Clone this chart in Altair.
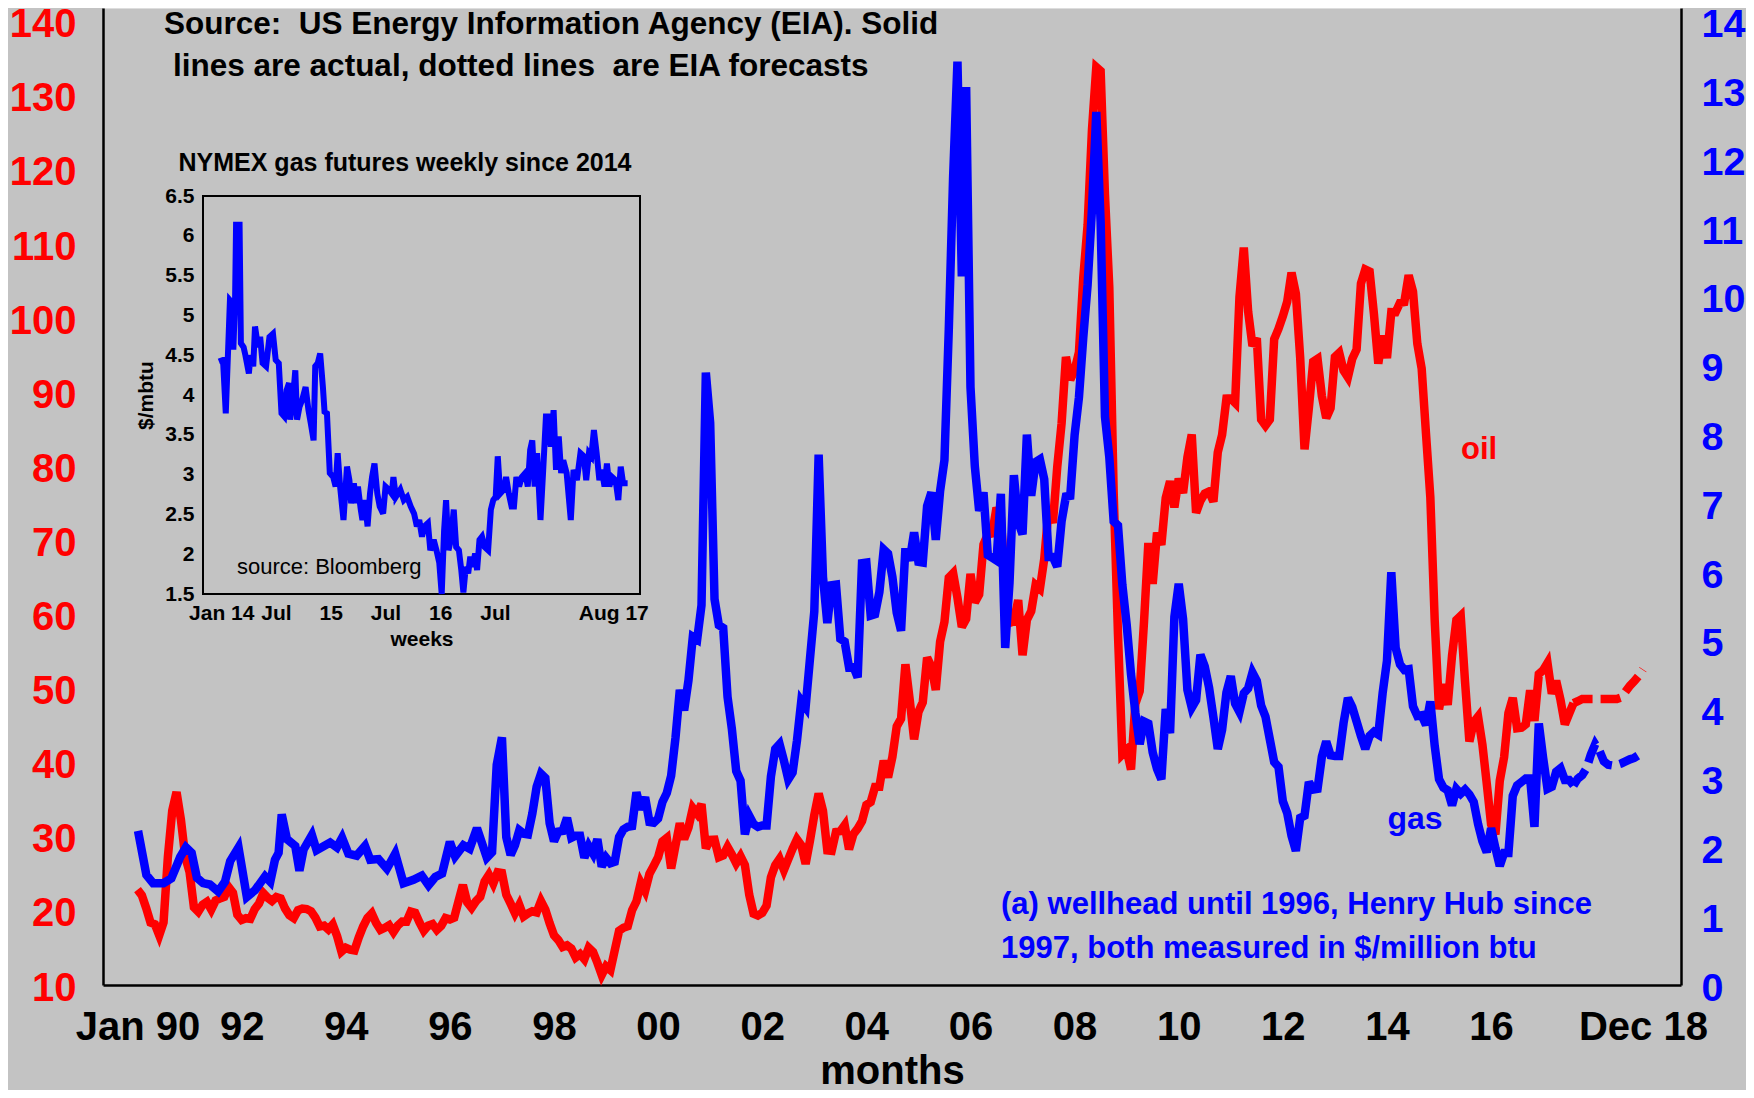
import altair as alt
import pandas as pd

# ---------------- data ----------------
# WTI oil price, $/barrel, monthly from Jan 1990 to Aug 2017
oil_first_year = 1990
oil_actual = [
    22.86, 22.11, 20.39, 18.43, 18.20, 16.70, 18.45, 27.31, 33.51, 36.04, 32.33, 27.28,
    25.23, 20.48, 19.90, 20.83, 21.23, 20.19, 21.40, 21.69, 21.89, 23.23, 22.46, 19.50,
    18.79, 19.01, 18.92, 20.23, 20.98, 22.39, 21.78, 21.34, 21.88, 21.69, 20.34, 19.41,
    19.03, 20.09, 20.32, 20.25, 19.95, 19.09, 17.89, 18.01, 17.50, 18.15, 16.61, 14.52,
    15.03, 14.78, 14.68, 16.42, 17.89, 19.06, 19.66, 18.38, 17.45, 17.72, 18.07, 17.16,
    18.04, 18.57, 18.54, 19.90, 19.74, 18.45, 17.33, 18.02, 18.23, 17.43, 17.99, 19.03,
    18.85, 19.09, 21.33, 23.50, 21.17, 20.42, 21.30, 21.90, 23.97, 24.88, 23.71, 25.23,
    25.13, 22.18, 20.97, 19.70, 20.82, 19.26, 19.66, 19.95, 19.80, 21.33, 20.19, 18.33,
    16.72, 16.06, 15.12, 15.35, 14.91, 13.72, 14.17, 13.47, 15.03, 14.46, 13.00, 11.35,
    12.52, 12.01, 14.68, 17.31, 17.72, 17.92, 20.10, 21.28, 23.80, 22.69, 25.00, 26.10,
    27.26, 29.37, 29.84, 25.72, 28.79, 31.82, 29.70, 31.26, 33.88, 33.11, 34.42, 28.44,
    29.59, 29.61, 27.25, 27.49, 28.63, 27.60, 26.43, 27.37, 26.20, 22.17, 19.64, 19.39,
    19.72, 20.72, 24.53, 26.18, 27.04, 25.52, 26.97, 28.39, 29.66, 28.84, 26.35, 29.46,
    32.95, 35.83, 33.51, 28.17, 28.11, 30.66, 30.76, 31.57, 28.31, 30.34, 31.11, 32.13,
    34.31, 34.69, 36.74, 36.75, 40.28, 38.03, 40.78, 44.90, 45.94, 53.28, 48.47, 43.15,
    46.84, 48.15, 54.19, 52.98, 49.83, 56.35, 59.00, 64.99, 65.59, 62.26, 58.32, 59.41,
    65.49, 61.63, 62.69, 69.44, 70.84, 70.95, 74.41, 73.04, 63.80, 58.89, 59.08, 61.96,
    54.51, 59.28, 60.44, 63.98, 63.46, 67.49, 74.12, 72.36, 79.92, 85.80, 94.77, 91.69,
    92.97, 95.39, 105.45, 112.58, 125.40, 133.88, 133.37, 116.67, 104.11, 76.61, 57.31, 41.12,
    41.71, 39.09, 47.94, 49.65, 59.03, 69.64, 64.15, 71.05, 69.41, 75.72, 77.99, 74.47,
    78.33, 76.39, 81.20, 84.29, 73.74, 75.34, 76.32, 76.60, 75.24, 81.89, 84.25, 89.15,
    89.17, 88.58, 102.86, 109.53, 100.90, 96.26, 97.30, 86.33, 85.52, 86.32, 97.16, 98.56,
    100.27, 102.20, 106.16, 103.32, 94.66, 82.30, 87.90, 94.13, 94.51, 89.49, 86.53, 87.86,
    94.76, 95.31, 92.94, 92.02, 94.51, 95.77, 104.67, 106.57, 106.29, 100.54, 93.86, 97.63,
    94.62, 100.82, 100.80, 102.07, 102.18, 105.79, 103.59, 96.54, 93.21, 84.40, 75.79, 59.29,
    47.22, 50.58, 47.82, 54.45, 59.27, 59.82, 50.90, 42.87, 45.48, 46.22, 42.44, 37.19,
    31.68, 30.32, 37.55, 40.75, 46.71, 48.76, 44.65, 44.72, 45.18, 49.78, 45.66, 51.97,
    52.50, 53.47, 49.33, 51.06, 48.48, 45.18, 46.63, 48.04,
]

# Gas, wellhead price until 1996 ($/million btu)
gas_wellhead_year = [
    1990.01, 1990.17, 1990.30, 1990.50, 1990.65, 1990.82, 1990.93, 1991.04, 1991.14, 1991.26,
    1991.39, 1991.55, 1991.68, 1991.78, 1991.94, 1992.10, 1992.26, 1992.45, 1992.55, 1992.64,
    1992.71, 1992.77, 1992.87, 1993.03, 1993.11, 1993.19, 1993.35, 1993.44, 1993.70, 1993.83,
    1993.93, 1994.05, 1994.21, 1994.37, 1994.47, 1994.63, 1994.79, 1994.95, 1995.11, 1995.30,
    1995.46, 1995.59, 1995.72, 1995.85, 1996.00, 1996.10, 1996.26, 1996.38, 1996.52, 1996.71,
    1996.81, 1996.90,
]
gas_wellhead = [
    2.24, 1.60, 1.48, 1.48, 1.55, 1.86, 2.00, 1.92, 1.56, 1.48,
    1.46, 1.36, 1.50, 1.80, 2.00, 1.28, 1.38, 1.58, 1.50, 1.82,
    1.92, 2.48, 2.12, 2.02, 1.66, 1.97, 2.18, 1.96, 2.07, 2.00,
    2.14, 1.91, 1.88, 2.02, 1.82, 1.83, 1.69, 1.91, 1.48, 1.53,
    1.59, 1.45, 1.57, 1.62, 2.08, 1.87, 2.03, 1.98, 2.28, 1.85,
    1.93, 3.20,
]

# Gas, Henry Hub from Jan 1997 to Aug 2017, monthly
gas_hh_first_year = 1997
gas_hh = [
    3.60, 2.15, 1.89, 2.03, 2.25, 2.20, 2.19, 2.49, 2.88, 3.07, 3.01, 2.35,
    2.09, 2.23, 2.24, 2.43, 2.14, 2.17, 2.17, 1.85, 2.02, 1.91, 2.12, 1.72,
    1.85, 1.77, 1.79, 2.15, 2.26, 2.30, 2.31, 2.80, 2.55, 2.73, 2.37, 2.36,
    2.42, 2.66, 2.79, 3.04, 3.59, 4.29, 3.99, 4.43, 5.06, 5.02, 5.52, 8.90,
    8.17, 5.61, 5.23, 5.19, 4.19, 3.72, 3.11, 2.97, 2.19, 2.46, 2.34, 2.30,
    2.32, 2.32, 3.03, 3.43, 3.50, 3.26, 2.99, 3.09, 3.55, 4.13, 4.04, 4.74,
    5.43, 7.71, 5.93, 5.26, 5.81, 5.82, 5.03, 4.99, 4.62, 4.63, 4.47, 6.13,
    6.14, 5.37, 5.39, 5.71, 6.33, 6.27, 5.93, 5.41, 5.15, 6.35, 6.17, 6.58,
    6.15, 6.14, 6.96, 7.16, 6.47, 7.18, 7.63, 9.53, 11.75, 13.42, 10.30, 13.05,
    8.69, 7.54, 6.89, 7.16, 6.25, 6.21, 6.17, 7.14, 4.90, 5.85, 7.41, 6.73,
    6.55, 8.00, 7.11, 7.60, 7.64, 7.35, 6.22, 6.22, 6.08, 6.74, 7.10, 7.11,
    7.99, 8.54, 9.41, 10.18, 11.27, 12.69, 11.09, 8.26, 7.67, 6.74, 6.68, 5.82,
    5.24, 4.52, 3.96, 3.50, 3.83, 3.80, 3.38, 3.14, 2.99, 4.01, 3.66, 5.35,
    5.83, 5.32, 4.29, 4.03, 4.14, 4.80, 4.63, 4.32, 3.89, 3.43, 3.71, 4.25,
    4.49, 4.09, 3.97, 4.24, 4.31, 4.54, 4.42, 4.06, 3.90, 3.57, 3.24, 3.17,
    2.67, 2.50, 2.17, 1.95, 2.43, 2.46, 2.95, 2.84, 2.85, 3.32, 3.54, 3.34,
    3.33, 3.33, 3.81, 4.17, 4.04, 3.83, 3.62, 3.43, 3.62, 3.68, 3.64, 4.24,
    4.71, 6.00, 4.90, 4.66, 4.58, 4.59, 4.05, 3.91, 3.92, 3.78, 4.12, 3.48,
    2.99, 2.87, 2.83, 2.61, 2.85, 2.78, 2.84, 2.77, 2.66, 2.34, 2.09, 1.93,
    2.28, 1.99, 1.73, 1.92, 1.92, 2.75, 2.90, 2.95, 3.00, 3.00, 2.30, 3.80,
    3.30, 2.85, 2.88, 3.10, 3.15, 2.98, 2.98, 2.90,
]

# EIA forecasts, monthly Aug 2017 - Dec 2018
forecast_first_year = 2017 + 7 / 12
oil_forecast = [48.04, 48.3, 48.6, 48.6, 48.6, 48.6, 48.6, 48.6, 48.6, 48.6, 48.6,
                48.8, 49.6, 50.4, 51.0, 51.7, 52.6]
gas_forecast = [2.90, 3.00, 3.05, 3.15, 3.35, 3.50, 3.40, 3.25, 3.20, 3.19, 3.20,
                3.22, 3.25, 3.28, 3.30, 3.34, 3.38]

# Inset: NYMEX gas futures, weekly since 2014 ($/mbtu)
inset_year = [
    2013.978, 2014.016, 2014.041, 2014.079, 2014.104, 2014.110, 2014.126, 2014.135, 2014.167, 2014.179,
    2014.204, 2014.220, 2014.252, 2014.267, 2014.292, 2014.308, 2014.336, 2014.355, 2014.377, 2014.409,
    2014.440, 2014.472, 2014.497, 2014.525, 2014.550, 2014.575, 2014.597, 2014.619, 2014.629, 2014.651,
    2014.676, 2014.692, 2014.714, 2014.739, 2014.770, 2014.796, 2014.818, 2014.843, 2014.858, 2014.881,
    2014.903, 2014.928, 2014.943, 2014.965, 2014.991, 2015.022, 2015.044, 2015.063, 2015.085, 2015.116,
    2015.148, 2015.170, 2015.186, 2015.211, 2015.233, 2015.248, 2015.274, 2015.289, 2015.311, 2015.336,
    2015.358, 2015.377, 2015.399, 2015.425, 2015.447, 2015.478, 2015.500, 2015.531, 2015.557, 2015.572,
    2015.594, 2015.635, 2015.667, 2015.698, 2015.730, 2015.761, 2015.786, 2015.808, 2015.833, 2015.855,
    2015.887, 2015.909, 2015.940, 2015.965, 2015.991, 2016.013, 2016.035, 2016.053, 2016.075, 2016.097,
    2016.123, 2016.145, 2016.170, 2016.192, 2016.211, 2016.233, 2016.255, 2016.274, 2016.296, 2016.318,
    2016.336, 2016.358, 2016.381, 2016.406, 2016.437, 2016.462, 2016.484, 2016.506, 2016.525, 2016.547,
    2016.579, 2016.601, 2016.626, 2016.651, 2016.673, 2016.695, 2016.720, 2016.745, 2016.777, 2016.799,
    2016.821, 2016.840, 2016.862, 2016.884, 2016.915, 2016.940, 2016.965, 2016.987, 2017.009, 2017.035,
    2017.057, 2017.082, 2017.104, 2017.123, 2017.154, 2017.192, 2017.217, 2017.248, 2017.280, 2017.311,
    2017.333, 2017.358, 2017.380, 2017.403, 2017.428, 2017.453, 2017.475, 2017.500, 2017.522, 2017.544,
    2017.569, 2017.601, 2017.626, 2017.648, 2017.670, 2017.711,
]
inset_price = [
    4.42, 4.44, 3.77, 5.19, 5.15, 4.57, 5.20, 6.14, 6.14, 4.65,
    4.60, 4.50, 4.27, 4.50, 4.36, 4.86, 4.60, 4.73, 4.40, 4.36,
    4.73, 4.77, 4.44, 4.40, 3.77, 3.73, 4.06, 4.15, 3.69, 3.90,
    4.31, 3.69, 3.85, 3.94, 4.10, 3.81, 3.64, 3.43, 4.36, 4.40,
    4.52, 4.10, 3.79, 3.77, 3.02, 2.97, 2.85, 3.27, 2.85, 2.43,
    3.10, 2.93, 2.64, 2.89, 2.64, 2.85, 2.56, 2.43, 2.68, 2.35,
    2.76, 2.97, 3.14, 2.76, 2.60, 2.51, 2.85, 2.81, 2.76, 2.97,
    2.72, 2.81, 2.68, 2.72, 2.60, 2.51, 2.35, 2.43, 2.22, 2.35,
    2.39, 2.05, 2.18, 2.05, 1.89, 1.50, 2.30, 2.68, 2.05, 2.18,
    2.56, 2.09, 2.05, 1.80, 1.52, 1.84, 1.76, 1.97, 1.84, 2.01,
    1.80, 2.18, 2.22, 2.09, 2.05, 2.56, 2.68, 2.72, 3.23, 2.76,
    2.81, 2.97, 2.76, 2.60, 2.60, 2.97, 2.85, 2.97, 3.02, 2.85,
    3.31, 3.43, 2.85, 3.27, 2.43, 3.06, 3.73, 3.73, 3.35, 3.81,
    3.06, 3.48, 3.02, 3.18, 3.02, 2.43, 3.06, 2.93, 3.27, 3.23,
    2.93, 3.27, 3.23, 3.56, 3.27, 2.93, 3.06, 2.85, 3.14, 2.85,
    2.97, 2.93, 2.68, 3.10, 2.89, 2.89,
]

# tick labels
main_tick_year = [1990, 1992, 1994, 1996, 1998, 2000, 2002, 2004, 2006, 2008, 2010,
                  2012, 2014, 2016, 2018.917]
main_tick_text = ["Jan 90", "92", "94", "96", "98", "00", "02", "04", "06", "08", "10",
                  "12", "14", "16", "Dec 18"]
oil_ticks = list(range(10, 141, 10))
gas_ticks = list(range(0, 15))
inset_tick_year = [2014.0, 2014.5, 2015.0, 2015.5, 2016.0, 2016.5, 2017.58]
inset_tick_text = ["Jan 14", "Jul", "15", "Jul", "16", "Jul", "Aug 17"]
inset_price_ticks = [1.5, 2, 2.5, 3, 3.5, 4, 4.5, 5, 5.5, 6, 6.5]

# text annotations (x in years, y in oil units for the main chart, $/mbtu for the inset)
header_lines = ["Source:\u00a0 US Energy Information Agency (EIA). Solid",
                "lines are actual, dotted lines\u00a0 are EIA forecasts"]
header_pos = [(1990.509, 139.6), (1990.682, 133.9)]
note_lines = ["(a) wellhead until 1996, Henry Hub since",
              "1997, both measured in $/million btu"]
note_pos = [(2006.587, 20.8), (2006.587, 14.9)]
oil_label_pos = (2015.77, 82.2)
gas_label_pos = (2014.54, 32.4)
inset_title = "NYMEX gas futures weekly since 2014"
inset_title_pos = (2015.678, 6.915)
inset_source = "source: Bloomberg"
inset_source_pos = (2014.143, 1.84)

# ---------------- layout ----------------
W, H = 1578, 977
MAIN_X = [1989.337, 2019.648]
OIL_Y = [10, 141.86]
GAS_Y = [0, 14.2]
INSET_X = [2013.833, 2017.824]
INSET_Y = [1.5, 6.5]
INSET_X_RANGE = [100, 537]
INSET_Y_RANGE = [586, 188]

FONT = "Liberation Sans"
RED = "#ff0000"
BLUE = "#0000ff"


def label_expr(vals, texts):
    parts = [f"abs(datum.value - {v}) < 0.01 ? '{t}'" for v, t in zip(vals, texts)]
    return " : ".join(parts) + " : ''"


def oil_to_gas(v):
    return (v - OIL_Y[0]) * 14 / 130


# ---------------- frames ----------------
oil_df = pd.DataFrame({"t": [oil_first_year + i / 12 for i in range(len(oil_actual))],
                       "v": oil_actual})
oil_fc_df = pd.DataFrame({"t": [forecast_first_year + i / 12 for i in range(len(oil_forecast))],
                          "v": oil_forecast})
gas_df = pd.DataFrame({
    "t": gas_wellhead_year + [gas_hh_first_year + i / 12 for i in range(len(gas_hh))],
    "v": gas_wellhead + gas_hh})
gas_fc_df = pd.DataFrame({"t": [forecast_first_year + i / 12 for i in range(len(gas_forecast))],
                          "v": gas_forecast})
inset_df = pd.DataFrame({"t": inset_year, "v": inset_price})

header_df = pd.DataFrame({"t": [p[0] for p in header_pos], "v": [p[1] for p in header_pos],
                          "label": header_lines})
note_df = pd.DataFrame({"t": [p[0] for p in note_pos], "v": [oil_to_gas(p[1]) for p in note_pos],
                        "label": note_lines})
oil_lab_df = pd.DataFrame({"t": [oil_label_pos[0]], "v": [oil_label_pos[1]], "label": ["oil"]})
gas_lab_df = pd.DataFrame({"t": [gas_label_pos[0]], "v": [oil_to_gas(gas_label_pos[1])],
                           "label": ["gas"]})
inset_title_df = pd.DataFrame({"t": [inset_title_pos[0]], "v": [inset_title_pos[1]],
                               "label": [inset_title]})
inset_src_df = pd.DataFrame({"t": [inset_source_pos[0]], "v": [inset_source_pos[1]],
                             "label": [inset_source]})
frame_df = pd.DataFrame({"t": [INSET_X[0]], "t2": [INSET_X[1]],
                         "v": [INSET_Y[0]], "v2": [INSET_Y[1]]})

# ---------------- scales & axes ----------------
main_x_scale = alt.Scale(domain=MAIN_X, nice=False, zero=False)
oil_y_scale = alt.Scale(domain=OIL_Y, nice=False, zero=False)
gas_y_scale = alt.Scale(domain=GAS_Y, nice=False, zero=False)
inset_x_scale = alt.Scale(domain=INSET_X, range=INSET_X_RANGE, nice=False, zero=False)
inset_y_scale = alt.Scale(domain=INSET_Y, range=INSET_Y_RANGE, nice=False, zero=False)

main_x_axis = alt.Axis(values=main_tick_year, labelExpr=label_expr(main_tick_year, main_tick_text),
                       title="months", titleFontSize=40, titleFontWeight="bold", titleColor="black",
                       titleFont=FONT, titlePadding=4,
                       labelFontSize=40, labelFontWeight="bold", labelColor="black", labelFont=FONT,
                       labelPadding=22, labelFlush=False, labelOverlap=False,
                       ticks=False, grid=False, domainColor="black", domainWidth=2.5)
oil_y_axis = alt.Axis(values=oil_ticks, orient="left", title=None,
                      labelFontSize=40, labelFontWeight="bold", labelColor=RED, labelFont=FONT,
                      labelPadding=27, labelOffset=3, labelFlush=False, labelOverlap=False,
                      ticks=False, grid=False, domainColor="black", domainWidth=2.5)
gas_y_axis = alt.Axis(values=gas_ticks, orient="right", title=None,
                      labelFontSize=39.5, labelFontWeight="bold", labelColor=BLUE, labelFont=FONT,
                      labelPadding=20, labelOffset=3, labelFlush=False, labelOverlap=False,
                      ticks=False, grid=False, domainColor="black", domainWidth=2.5)
inset_x_axis = alt.Axis(values=inset_tick_year, labelExpr=label_expr(inset_tick_year, inset_tick_text),
                        orient="bottom", offset=-(H - INSET_Y_RANGE[0]),
                        title="weeks", titleFontSize=21, titleFontWeight="bold", titleColor="black",
                        titleFont=FONT, titlePadding=5,
                        labelFontSize=21, labelFontWeight="bold", labelColor="black", labelFont=FONT,
                        labelPadding=8, labelFlush=False, labelOverlap=False,
                        ticks=False, grid=False, domain=False)
inset_y_axis = alt.Axis(values=inset_price_ticks, format="~g", orient="left",
                        offset=-INSET_X_RANGE[0],
                        title="$/mbtu", titleFontSize=21, titleFontWeight="bold", titleColor="black",
                        titleFont=FONT, titlePadding=8,
                        labelFontSize=21, labelFontWeight="bold", labelColor="black", labelFont=FONT,
                        labelPadding=9, labelFlush=False, labelOverlap=False,
                        ticks=False, grid=False, domain=False)

# ---------------- oil group ----------------
ox = alt.X("t:Q", scale=main_x_scale, axis=main_x_axis)
oy = alt.Y("v:Q", scale=oil_y_scale, axis=oil_y_axis)
oil_line = alt.Chart(oil_df).mark_line(color=RED, strokeWidth=8.5, strokeJoin="miter",
                                       strokeMiterLimit=3).encode(x=ox, y=oy)
oil_fc_line = alt.Chart(oil_fc_df).mark_line(color=RED, strokeWidth=8.5, strokeDash=[20, 8]).encode(x=ox, y=oy)
header = alt.Chart(header_df).mark_text(align="left", baseline="middle", fontSize=31.5,
                                        fontWeight="bold", color="black", font=FONT).encode(
    x=ox, y=oy, text="label:N")
oil_lab = alt.Chart(oil_lab_df).mark_text(align="center", baseline="middle", fontSize=31,
                                          fontWeight="bold", color=RED, font=FONT).encode(
    x=ox, y=oy, text="label:N")
oil_group = alt.layer(oil_line, oil_fc_line, header, oil_lab)

# ---------------- gas group ----------------
gx = alt.X("t:Q", scale=main_x_scale, axis=None)
gy = alt.Y("v:Q", scale=gas_y_scale, axis=gas_y_axis)
gas_line = alt.Chart(gas_df).mark_line(color=BLUE, strokeWidth=8.5, strokeJoin="miter",
                                       strokeMiterLimit=3).encode(x=gx, y=gy)
gas_fc_line = alt.Chart(gas_fc_df).mark_line(color=BLUE, strokeWidth=8.5, strokeDash=[20, 8]).encode(x=gx, y=gy)
notes = alt.Chart(note_df).mark_text(align="left", baseline="middle", fontSize=31,
                                     fontWeight="bold", color=BLUE, font=FONT).encode(
    x=gx, y=gy, text="label:N")
gas_lab = alt.Chart(gas_lab_df).mark_text(align="center", baseline="middle", fontSize=32,
                                          fontWeight="bold", color=BLUE, font=FONT).encode(
    x=gx, y=gy, text="label:N")
gas_group = alt.layer(gas_line, gas_fc_line, notes, gas_lab)

# ---------------- inset group ----------------
ix = alt.X("t:Q", scale=inset_x_scale, axis=inset_x_axis)
iy = alt.Y("v:Q", scale=inset_y_scale, axis=inset_y_axis)
frame = alt.Chart(frame_df).mark_rect(fillOpacity=0, stroke="black", strokeWidth=2).encode(
    x=ix, x2="t2:Q", y=iy, y2="v2:Q")
inset_line = alt.Chart(inset_df).mark_line(color=BLUE, strokeWidth=6, strokeJoin="miter",
                                           strokeMiterLimit=3).encode(x=ix, y=iy)
inset_ttl = alt.Chart(inset_title_df).mark_text(align="center", baseline="middle", fontSize=25,
                                                fontWeight="bold", color="black", font=FONT).encode(
    x=ix, y=iy, text="label:N")
inset_src = alt.Chart(inset_src_df).mark_text(align="left", baseline="middle", fontSize=22,
                                              fontWeight="normal", color="black", font=FONT).encode(
    x=ix, y=iy, text="label:N")
inset_group = alt.layer(frame, inset_line, inset_ttl, inset_src)

chart = alt.layer(oil_group, gas_group, inset_group).resolve_scale(
    x="independent", y="independent"
).resolve_axis(x="independent", y="independent").properties(
    width=W, height=H,
    padding={"left": 95, "top": 0, "right": 65, "bottom": 105},
    autosize=alt.AutoSizeParams(type="none"),
    background="#c3c3c3",
).configure_view(stroke=None).configure(font=FONT)

chart.save("out.html", embed_options={"renderer": "svg", "actions": False})
